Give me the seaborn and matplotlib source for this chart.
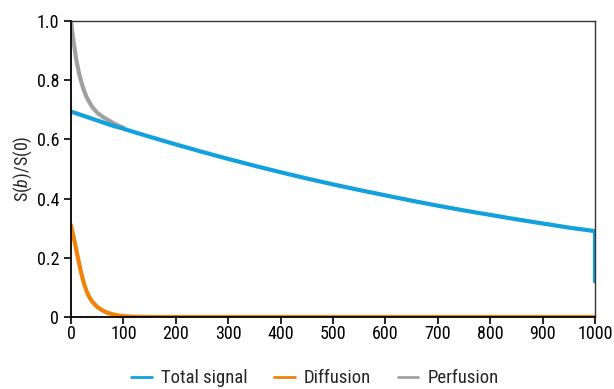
import pandas as pd
import seaborn as sns
import matplotlib.pyplot as plt
from matplotlib import font_manager

# b-values (s/mm2) and signal readings
b_vals = [0, 5, 10, 15, 20, 25, 30, 35, 40, 50, 60, 70, 80, 90, 100,
          120, 150, 200, 250, 300, 350, 400, 450, 500, 550, 600, 650,
          700, 750, 800, 850, 900, 950, 1000]
total = [0.694, 0.691, 0.688, 0.685, 0.682, 0.679, 0.676, 0.673, 0.670,
         0.664, 0.658, 0.652, 0.646, 0.641, 0.636, 0.625, 0.609, 0.583,
         0.558, 0.534, 0.511, 0.489, 0.468, 0.448, 0.429, 0.411, 0.393,
         0.376, 0.360, 0.345, 0.330, 0.316, 0.302, 0.290]
total_end_b = 1000
total_end = 0.12
diffusion = [0.31, 0.27, 0.228, 0.185, 0.145, 0.112, 0.086, 0.067, 0.053,
             0.034, 0.022, 0.014, 0.009, 0.005, 0.003, 0.001, 0.0, 0.0,
             0.0, 0.0, 0.0, 0.0, 0.0, 0.0, 0.0, 0.0, 0.0,
             0.0, 0.0, 0.0, 0.0, 0.0, 0.0, 0.0]
perf_b = [0, 2, 5, 10, 15, 20, 25, 30, 35, 40, 50, 60, 70, 80, 90, 100]
perfusion = [1.0, 0.97, 0.93, 0.87, 0.826, 0.792, 0.764, 0.742, 0.726,
             0.711, 0.690, 0.677, 0.666, 0.656, 0.647, 0.639]

df_total = pd.DataFrame({"b": b_vals + [total_end_b], "S": total + [total_end]})
df_diff = pd.DataFrame({"b": b_vals, "S": diffusion})
df_perf = pd.DataFrame({"b": perf_b, "S": perfusion})

# pick a condensed face if one is installed
installed = {f.name for f in font_manager.fontManager.ttflist}
narrow = [n for n in ["Liberation Sans Narrow", "Roboto Condensed",
                      "Open Sans Condensed", "Noto Sans Condensed",
                      "DejaVu Sans Condensed", "Arial Narrow"] if n in installed]
face = narrow[0] if narrow else "Liberation Sans"
fs = 13

sns.set_style("ticks")
plt.rcParams["font.family"] = [face, "DejaVu Sans"]
plt.rcParams["mathtext.fontset"] = "custom"
plt.rcParams["mathtext.rm"] = face
plt.rcParams["mathtext.it"] = face + ":italic"

fig = plt.figure(figsize=(6.14, 3.89), dpi=100)
ax = fig.add_axes([0.1156, 0.1851, 0.8534, 0.761])

blue, orange, gray = "#12a1dd", "#f0820a", "#a0a0a0"
sns.lineplot(data=df_perf, x="b", y="S", color=gray, lw=3, sort=False,
             estimator=None, label="Perfusion", ax=ax)
sns.lineplot(data=df_diff, x="b", y="S", color=orange, lw=3, sort=False,
             estimator=None, label="Diffusion", ax=ax)
sns.lineplot(data=df_total, x="b", y="S", color=blue, lw=3, sort=False,
             estimator=None, label="Total signal", ax=ax)

ax.set_xlim(0, 1000)
ax.set_ylim(0, 1.0)
ax.set_xticks(range(0, 1001, 100))
ax.set_xticklabels([str(v) for v in range(0, 1001, 100)])
ax.set_yticks([0, 0.2, 0.4, 0.6, 0.8, 1.0])
ax.set_yticklabels(["0", "0.2", "0.4", "0.6", "0.8", "1.0"])
ax.set_xlabel("")
ax.set_ylabel(r"S($\it{b}$)/S(0)", fontsize=fs, labelpad=2)
ax.tick_params(labelsize=fs, length=5, width=1.2, colors="black", direction="out")
ax.tick_params(axis="x", pad=1)
for side in ["left", "bottom"]:
    ax.spines[side].set_linewidth(1.3)
    ax.spines[side].set_color("black")
for side in ["top", "right"]:
    ax.spines[side].set_visible(True)
    ax.spines[side].set_linewidth(1.0)
    ax.spines[side].set_color("#333333")

handles, labels = ax.get_legend_handles_labels()
ax.get_legend().remove()
order = [2, 1, 0]
leg = fig.legend([handles[i] for i in order], [labels[i] for i in order],
                 loc="center", bbox_to_anchor=(0.513, 0.028), ncol=3,
                 frameon=False, fontsize=fs + 0.5, handlelength=1.1,
                 columnspacing=1.4, handletextpad=0.5)
for line in leg.get_lines():
    line.set_linewidth(2)

fig.savefig("out.png", dpi=100)
